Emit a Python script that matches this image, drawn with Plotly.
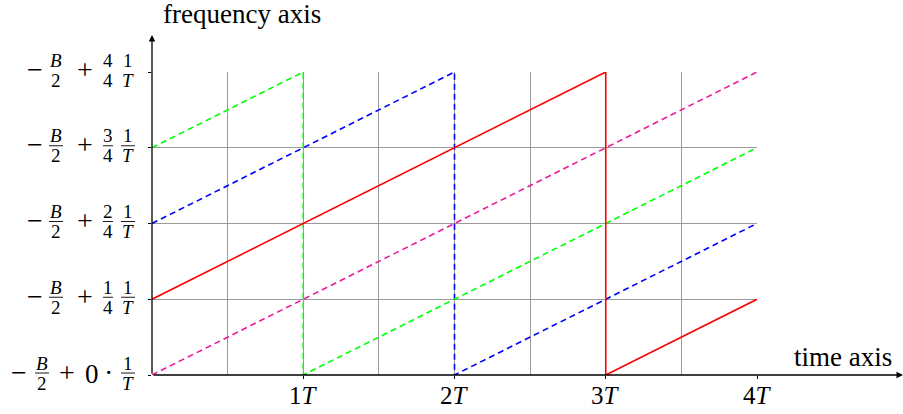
import plotly.graph_objects as go

# ---- data ----
x_tick_vals = [1, 2, 3, 4]
x_tick_text = ["1<i>T</i>", "2<i>T</i>", "3<i>T</i>", "4<i>T</i>"]
levels = [0, 1, 2, 3, 4]
level_numerators = ["0", "1", "2", "3", "4"]
level_denominator = "4"

red_t = [0, 3, 3, 4]
red_f = [1, 4, 0, 1]
green_t = [0, 1, 1, 4]
green_f = [3, 4, 0, 3]
blue_t = [0, 2, 2, 4]
blue_f = [2, 4, 0, 2]
magenta_t = [0, 4]
magenta_f = [0, 4]

FONT = "Liberation Serif, Times New Roman, serif"
MAIN = 25
OPS = 28
SMALL = 19

fig = go.Figure()
dash = "6px,4px"
fig.add_trace(go.Scatter(x=magenta_t, y=magenta_f, mode="lines",
                         line=dict(color="#f0189a", width=1.6, dash=dash)))
fig.add_trace(go.Scatter(x=blue_t, y=blue_f, mode="lines",
                         line=dict(color="#0000ff", width=1.6, dash=dash)))
fig.add_trace(go.Scatter(x=green_t, y=green_f, mode="lines",
                         line=dict(color="#00ff00", width=1.6, dash=dash)))
fig.add_trace(go.Scatter(x=red_t, y=red_f, mode="lines",
                         line=dict(color="#ff0000", width=1.6)))

L, R, T, B = 152, 146, 72, 39
W, H = 903, 414

annotations = []
shapes = []

def txt(text, xpx, lev, yshift, size):
    annotations.append(dict(text=text, xref="paper", x=0, xshift=xpx - L,
                            yref="y", y=lev, yshift=yshift, showarrow=False,
                            xanchor="center", yanchor="middle",
                            font=dict(family=FONT, size=size, color="black")))

def frac(num, den, xpx, lev, width):
    txt(num, xpx, lev, 12, SMALL)
    txt(den, xpx, lev, -8, SMALL)
    shapes.append(dict(type="line", xref="paper", xsizemode="pixel", xanchor=0,
                       x0=xpx - L - width / 2, x1=xpx - L + width / 2,
                       yref="y", ysizemode="pixel", yanchor=lev, y0=2, y1=2,
                       line=dict(color="black", width=0.9)))

for lev, num in zip(levels, level_numerators):
    if lev == 0:
        txt("−", 19, lev, 3, OPS)
        frac("<i>B</i>", "2", 42, lev, 14)
        txt("+", 67, lev, 3, OPS)
        txt(num, 92, lev, 1, MAIN + 2)
        txt("·", 108, lev, 3, OPS)
        frac("1", "<i>T</i>", 128, lev, 14)
    else:
        txt("−", 35, lev, 3, OPS)
        frac("<i>B</i>", "2", 56, lev, 14)
        txt("+", 85, lev, 3, OPS)
        frac(num, level_denominator, 108, lev, 10)
        frac("1", "<i>T</i>", 128, lev, 14)

# x tick labels as annotations under the axis
for xv, xt in zip(x_tick_vals, x_tick_text):
    annotations.append(dict(text=xt, xref="x", x=xv, yref="paper", y=0, yshift=-20,
                            showarrow=False, xanchor="center", yanchor="middle",
                            font=dict(family=FONT, size=MAIN, color="black")))

# axis titles
annotations.append(dict(text="frequency axis", xref="paper", x=0, xshift=161 - L,
                        yref="paper", y=1, yshift=(T - 14), showarrow=False,
                        xanchor="left", yanchor="middle",
                        font=dict(family=FONT, size=27, color="black")))
annotations.append(dict(text="time axis", xref="paper", x=1, xshift=792 - (W - R),
                        yref="paper", y=0, yshift=375 - 357, showarrow=False,
                        xanchor="left", yanchor="middle",
                        font=dict(family=FONT, size=27, color="black")))

# axis arrows
px_per_x = (W - L - R) / 4
px_per_y = (H - T - B) / 4
annotations.append(dict(text="", x=(W - L) / px_per_x, y=0, xref="x", yref="y",
                        ax=0, ay=0, axref="x", ayref="y", showarrow=True,
                        arrowhead=2, arrowsize=1, arrowwidth=1.3, arrowcolor="black"))
annotations.append(dict(text="", x=0, y=(H - B - 35) / px_per_y, xref="x", yref="y",
                        ax=0, ay=0, axref="x", ayref="y", showarrow=True,
                        arrowhead=2, arrowsize=1, arrowwidth=1.3, arrowcolor="black"))

fig.update_layout(
    width=W, height=H, margin=dict(l=L, r=R, t=T, b=B, pad=0),
    font=dict(family=FONT, size=MAIN, color="black"),
    paper_bgcolor="white", plot_bgcolor="white", showlegend=False,
    annotations=annotations, shapes=shapes,
    xaxis=dict(range=[0, 4], tickvals=x_tick_vals, ticktext=["" for _ in x_tick_vals],
               automargin=False,
               showgrid=True, gridcolor="#9a9a9a", gridwidth=1,
               minor=dict(dtick=0.5, showgrid=True, gridcolor="#9a9a9a", gridwidth=1),
               zeroline=False, showline=False, ticks="outside", ticklen=3,
               tickcolor="black"),
    yaxis=dict(range=[0, 4], tickvals=levels, ticktext=["" for _ in levels],
               automargin=False,
               showgrid=True, gridcolor="#9a9a9a", gridwidth=1,
               zeroline=False, showline=False, ticks="outside", ticklen=3,
               tickcolor="black"),
)

fig.write_html("out.html")
